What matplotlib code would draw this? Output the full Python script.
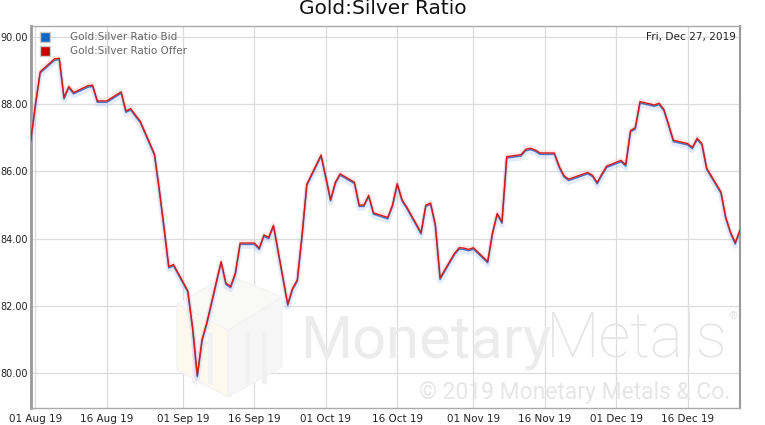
import matplotlib
matplotlib.use("Agg")
import matplotlib.pyplot as plt
import matplotlib.dates as mdates
import matplotlib.patheffects as pe
from matplotlib.lines import Line2D
from matplotlib.patches import Polygon
import pandas as pd

# trading days shown on the chart
dates = pd.bdate_range("2019-07-31", "2019-12-27")

# Gold:Silver Ratio Offer (red line)
offer = [86.92,
         88.00, 88.97, 89.35, 89.37, 88.20, 88.53, 88.35, 88.55, 88.57, 88.10, 88.10,
         88.10, 88.37, 87.80, 87.87, 87.68, 87.50, 86.52, 85.48, 84.35, 83.17, 83.23,
         82.45, 81.36, 79.93, 81.00, 81.50, 83.32, 82.68, 82.58, 82.98, 83.87, 83.87,
         83.72, 84.11, 84.04, 84.40, 82.05, 82.52, 82.77, 84.10, 85.62, 86.49,
         85.83, 85.16, 85.68, 85.93, 85.68, 85.00, 85.00, 85.29, 84.77, 84.63, 85.00,
         85.64, 85.16, 84.94, 84.18, 85.00, 85.06, 84.42, 82.83, 83.56, 83.73, 83.72, 83.68,
         83.73, 83.32, 84.17, 84.75, 84.50, 86.44, 86.50, 86.66, 86.69, 86.64, 86.55,
         86.55, 86.16, 85.88, 85.77, 85.82, 85.97, 85.89, 85.67, 85.93, 86.16,
         86.33, 86.20, 87.22, 87.30, 88.08, 87.98, 88.03, 87.85, 87.40, 86.93,
         86.83, 86.72, 86.99, 86.83, 86.10, 85.39, 84.64, 84.20, 83.88, 84.26]

# Gold:Silver Ratio Bid (blue line)
bid = [86.88,
       87.96, 88.93, 89.31, 89.33, 88.16, 88.49, 88.31, 88.51, 88.53, 88.06, 88.06,
       88.06, 88.33, 87.76, 87.83, 87.64, 87.46, 86.48, 85.44, 84.31, 83.13, 83.19,
       82.41, 81.32, 79.89, 80.96, 81.46, 83.28, 82.64, 82.54, 82.94, 83.83, 83.83,
       83.68, 84.07, 84.00, 84.36, 82.01, 82.48, 82.73, 84.06, 85.58, 86.45,
       85.79, 85.12, 85.64, 85.89, 85.64, 84.96, 84.96, 85.25, 84.73, 84.59, 84.96,
       85.60, 85.12, 84.90, 84.14, 84.96, 85.02, 84.38, 82.79, 83.52, 83.69, 83.68, 83.64,
       83.69, 83.28, 84.13, 84.71, 84.46, 86.40, 86.46, 86.62, 86.65, 86.60, 86.51,
       86.51, 86.12, 85.84, 85.73, 85.78, 85.93, 85.85, 85.63, 85.89, 86.12,
       86.29, 86.16, 87.18, 87.26, 88.04, 87.94, 87.99, 87.81, 87.36, 86.89,
       86.79, 86.68, 86.95, 86.79, 86.06, 85.35, 84.60, 84.16, 83.84, 84.22]

y_ticks = [80, 82, 84, 86, 88, 90]
x_ticks = ["2019-08-01", "2019-08-16", "2019-09-01", "2019-09-16", "2019-10-01",
           "2019-10-16", "2019-11-01", "2019-11-16", "2019-12-01", "2019-12-16"]
series_names = ["Gold:Silver Ratio Bid", "Gold:Silver Ratio Offer"]
series_colors = ["#0a68c8", "#c80000"]

W, H = 765, 425
fig = plt.figure(figsize=(W / 100, H / 100), dpi=100)
ax = fig.add_axes([30.7 / W, (H - 408) / H, (740 - 30.7) / W, (408 - 26) / H])


def fx(px):
    return px / W


def fy(py):
    return 1 - py / H


# faint logo cube in the background
left_face = [(fx(177), fy(304)), (fx(228), fy(330)), (fx(228), fy(397)), (fx(177), fy(370))]
right_face = [(fx(228), fy(330)), (fx(282), fy(297)), (fx(282), fy(367)), (fx(228), fy(397))]
top_face = [(fx(177), fy(304)), (fx(228), fy(275)), (fx(282), fy(297)), (fx(228), fy(330))]
for poly, col in [(left_face, "#fdf9ee"), (right_face, "#f6f6f6"), (top_face, "#f9f9f7")]:
    ax.add_patch(Polygon(poly, closed=True, transform=fig.transFigure, facecolor=col,
                         edgecolor="#f2f2f2", linewidth=0.8, zorder=0.6))
for bx in [192, 208, 245, 262]:
    ax.add_patch(Polygon([(fx(bx), fy(332)), (fx(bx + 5), fy(334)), (fx(bx + 5), fy(385)), (fx(bx), fy(383))],
                         closed=True, transform=fig.transFigure, facecolor="#f1f1f1",
                         edgecolor="none", zorder=0.65))

# watermark text
ax.text(fx(300), fy(358), "Monetary", transform=fig.transFigure, fontsize=43,
        family="Roboto", color="#ececec", ha="left", va="baseline", zorder=0.7)
ax.text(fx(728), fy(358), "Metals", transform=fig.transFigure, fontsize=45,
        family="Roboto", fontweight="light", color="#e4e4e4", ha="right", va="baseline", zorder=0.7)
ax.text(fx(733), fy(316), "®", transform=fig.transFigure, fontsize=8,
        family="Roboto", color="#e4e4e4", ha="center", va="center", zorder=0.7)
ax.text(fx(730), fy(392), "© 2019 Monetary Metals & Co.", transform=fig.transFigure,
        fontsize=16.5, family="Roboto", color="#e6e6e6",
        ha="right", va="center", zorder=0.7)

# data lines with soft shadow
ax.plot(dates, bid, color="#4a72c0", linewidth=1.1, zorder=3,
        path_effects=[pe.SimpleLineShadow(offset=(0, -1.5), shadow_color="#9ab2e6", alpha=0.25, linewidth=3.5),
                      pe.Normal()])
ax.plot(dates, offer, color="#d01818", linewidth=1.0, zorder=4,
        path_effects=[pe.SimpleLineShadow(offset=(0, 1), shadow_color="#f2a8a8", alpha=0.25, linewidth=2.5),
                      pe.Normal()])

ax.set_xlim(pd.Timestamp("2019-07-31"), pd.Timestamp("2019-12-27"))
ax.set_ylim(78.96, 90.33)
ax.set_yticks(y_ticks)
ax.set_yticklabels(["%.2f" % v for v in y_ticks])
ax.set_xticks(pd.to_datetime(x_ticks))
ax.xaxis.set_major_formatter(mdates.DateFormatter("%d %b %y"))
ax.tick_params(length=0, labelsize=7.5, colors="#222222")
ax.tick_params(axis="y", pad=2, labelsize=7)
ax.tick_params(axis="x", pad=4)
ax.set_axisbelow(True)
ax.grid(True, color="#dcdcdc", linewidth=0.9)
for side in ["top", "bottom"]:
    ax.spines[side].set_color("#aaaaaa")
    ax.spines[side].set_linewidth(1)
ax.spines["left"].set_color("#999999")
ax.spines["left"].set_linewidth(2)
ax.spines["right"].set_color("#999999")
ax.spines["right"].set_linewidth(1.5)

handles = [Line2D([], [], linestyle="none", marker="s", markersize=7.5,
                  markerfacecolor=c, markeredgecolor="#cccccc", markeredgewidth=1)
           for c in series_colors]
leg = ax.legend(handles, series_names, loc="upper left", frameon=False, fontsize=7.5,
                handlelength=1, handletextpad=1.9, labelspacing=0.4,
                borderaxespad=0.2, bbox_to_anchor=(0.004, 1.0))
for t in leg.get_texts():
    t.set_color("#666666")

fig.text(0.5, fy(9), "Gold:Silver Ratio", ha="center", va="center", fontsize=14.5, color="#111111")
fig.text(fx(736), fy(37), "Fri, Dec 27, 2019", ha="right", va="center", fontsize=7.6, color="#222222")

fig.savefig("out.png", dpi=100)
